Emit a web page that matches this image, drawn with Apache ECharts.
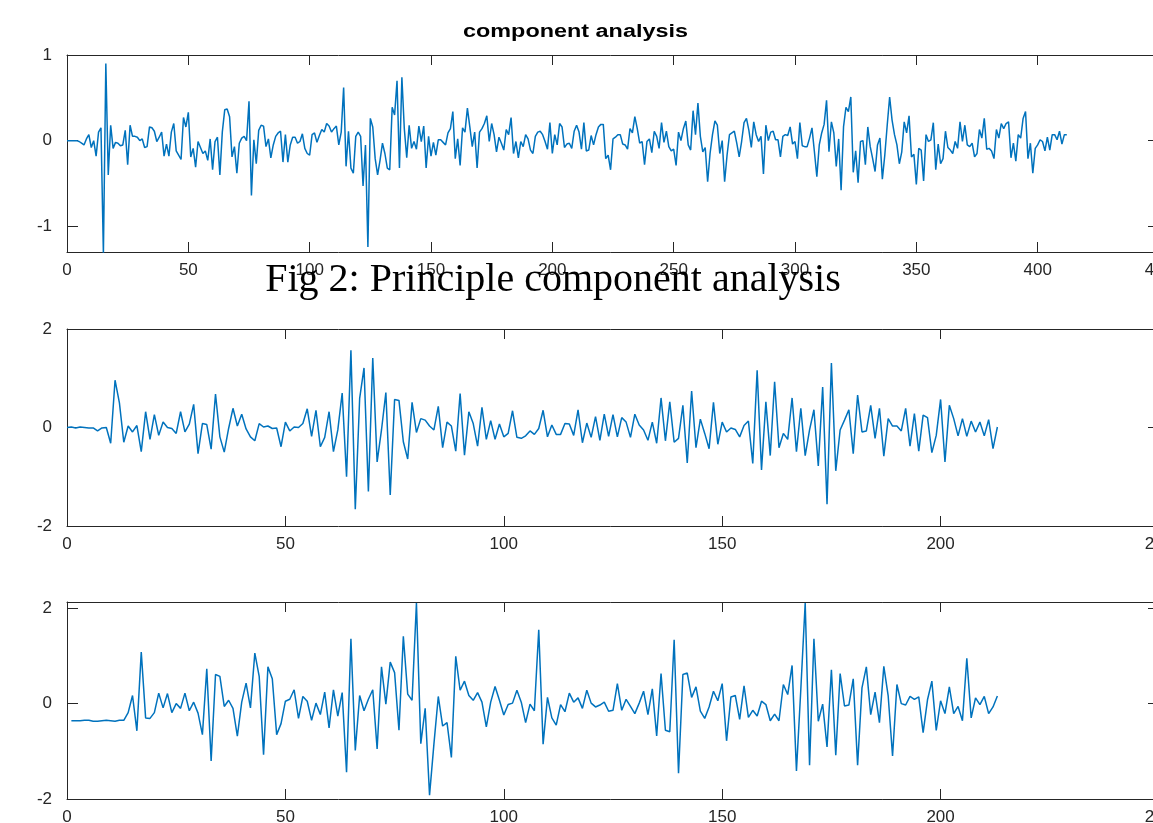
<!DOCTYPE html>
<html>
<head>
<meta charset="utf-8">
<script src="https://cdn.jsdelivr.net/npm/echarts@6/dist/echarts.min.js"></script>
<style>
html,body{margin:0;padding:0;background:#fff;}
#chart{width:1153px;height:823px;}
</style>
</head>
<body>
<div id="chart"></div>
<script>
// ---------- DATA ----------
const titleText = 'component analysis';
const captionText = 'Fig 2: Principle component analysis';

// panel 1 (x starts at 0)
const series1 = [
0,0,0,0,0,-0.01,-0.03,-0.05,0.02,0.07,-0.08,0,-0.18,0.1,0.15,-1.32,0.9,-0.4,0.18,-0.09,
-0.02,-0.03,-0.06,-0.05,0.12,-0.28,0.18,0.05,0.05,0.04,0,0.02,-0.08,-0.07,0.16,0.15,0.11,-0.01,0.04,0.1,
-0.18,-0.04,-0.18,0.1,0.2,-0.12,-0.17,-0.22,0.27,0.16,0.33,-0.19,-0.09,-0.31,-0.01,-0.08,-0.15,-0.12,-0.23,0.02,
-0.34,-0.01,0.04,-0.4,0.1,0.36,0.37,0.28,-0.19,-0.07,-0.38,-0.03,0.03,0.05,0,0.46,-0.64,0.01,-0.27,0.12,
0.18,0.17,-0.07,0.02,-0.2,-0.05,0.05,0.09,0.11,-0.25,0.07,-0.25,-0.05,0.04,0.04,-0.03,-0.01,0.08,-0.09,-0.15,
-0.17,0.07,0.09,-0.02,0.06,0.13,0.1,0.2,0.17,0.1,0.14,0.17,-0.05,0.1,0.62,-0.3,0.11,-0.32,-0.38,0.05,
0.1,0.05,-0.53,-0.05,-1.24,0.26,0.16,-0.21,-0.4,-0.23,-0.03,-0.15,-0.32,-0.34,0.39,0.3,0.7,-0.32,0.74,0.14,
-0.2,0.18,-0.09,-0.01,-0.1,0.17,-0.01,0.17,-0.32,0.05,-0.18,-0.02,-0.17,0.01,0.01,-0.02,-0.05,0.09,0.14,0.34,
-0.21,0.02,-0.29,0.15,0.1,0.38,0.16,-0.07,0.1,-0.32,0.1,0.14,0.2,0.29,-0.01,0.2,0.07,-0.13,0.04,-0.03,
-0.11,0.13,0.07,0.27,-0.15,-0.01,-0.2,-0.01,-0.07,0.07,0.02,-0.11,-0.15,0.05,0.1,0.11,0.07,-0.01,-0.1,0.21,
-0.15,0.07,-0.05,0.2,0.16,-0.08,-0.04,-0.03,-0.09,0.11,0.18,0.1,-0.1,0.21,-0.12,-0.11,0.06,-0.05,0.07,0.16,
0.19,0.19,-0.21,-0.17,-0.34,0.02,0.04,0.07,0.07,-0.04,-0.05,-0.1,0.14,0.09,0.28,0.14,-0.03,-0.01,-0.28,-0.01,
0.02,-0.14,0.11,0.05,-0.09,0.21,-0.02,0.11,-0.07,-0.12,-0.1,-0.29,0.1,0,0.14,0.23,-0.05,-0.11,0.35,0.07,
0.44,0.05,-0.13,-0.08,-0.48,-0.15,0.07,0.23,0.18,-0.15,0,-0.48,-0.17,0.07,0.09,0.11,-0.03,-0.19,-0.01,0.21,
0.26,0.12,-0.08,0.22,0.07,-0.01,0.05,-0.39,0.18,0,0.1,0.11,0.01,0.01,-0.19,0.05,0.07,0.06,0.16,-0.04,
-0.01,-0.21,0.21,-0.06,-0.07,-0.07,0.03,0.15,-0.13,-0.42,-0.05,0.09,0.19,0.47,-0.13,0.22,0.09,-0.3,0.02,-0.58,
0.16,0.39,0.34,0.51,-0.37,-0.12,-0.49,-0.01,0,-0.28,0.16,-0.07,-0.21,-0.36,-0.05,0.03,-0.45,-0.17,0.18,0.51,
0.24,0.07,-0.05,-0.27,-0.13,0.22,0.09,0.29,-0.19,-0.16,-0.51,-0.09,-0.11,-0.47,0.07,-0.01,0.01,0.21,-0.34,-0.04,
-0.27,-0.21,0.11,-0.08,-0.11,-0.15,-0.01,-0.09,0.22,-0.01,0.18,-0.05,-0.07,-0.03,-0.19,-0.15,0.13,0.03,0.26,-0.1,
-0.09,-0.12,-0.21,0.13,0.03,0.2,0.14,0.2,0.22,-0.2,-0.03,-0.24,0.07,0.03,0.26,0.34,-0.21,-0.03,-0.38,-0.09,
-0.05,0.01,-0.01,-0.12,0.04,-0.11,0.07,0.07,0.01,0.11,-0.04,0.07,0.07
];

// panel 2 (x starts at 0)
const series2 = [
0,0.01,-0.01,0.01,0,-0.01,-0.01,-0.07,-0.01,0,-0.32,0.96,0.5,-0.3,0.03,-0.09,0.04,-0.49,0.32,-0.24,
0.26,-0.16,0.11,0,-0.02,-0.12,0.32,-0.09,0.07,0.47,-0.53,0.08,0.06,-0.44,0.68,-0.19,-0.5,-0.02,0.39,0.03,
0.27,-0.03,-0.19,-0.27,0.08,0.01,0.03,-0.02,-0.01,-0.39,0.11,-0.07,0.01,0,0.08,0.38,-0.18,0.35,-0.39,-0.2,
0.32,-0.49,-0.05,0.7,-1.0,1.57,-1.66,0.59,1.21,-1.3,1.41,-0.7,-0.05,0.71,-1.37,0.57,0.55,-0.29,-0.64,0.51,
-0.1,0.18,0.15,0.03,-0.05,0.43,-0.41,0.11,0.03,-0.48,0.69,-0.56,0.32,0.08,-0.38,0.41,-0.24,0.14,-0.24,0.07,
-0.19,-0.12,0.34,-0.2,-0.22,-0.17,-0.07,-0.14,-0.02,0.35,-0.19,0.05,-0.14,-0.14,0.08,0.07,-0.16,0.36,-0.31,0.09,
-0.2,0.22,-0.26,0.27,-0.18,0.26,-0.19,0.2,0.11,-0.2,0.27,0.05,-0.05,-0.26,0.11,-0.32,0.6,-0.27,0.52,-0.3,
-0.22,0.45,-0.72,0.74,-0.41,0.17,-0.12,-0.43,0.51,-0.34,0.11,-0.09,-0.01,-0.04,-0.19,0.04,0.13,-0.73,1.16,-0.86,
0.52,-0.57,0.93,-0.41,-0.12,-0.24,0.6,-0.49,0.39,-0.57,-0.05,0.36,-0.78,0.82,-1.56,1.31,-0.88,-0.05,0.15,0.36,
-0.53,0.66,-0.09,-0.07,0.45,-0.22,0.39,-0.58,0.18,0.03,0.03,-0.07,0.39,-0.38,0.28,-0.48,0.25,0.2,-0.51,-0.16,
0.57,-0.7,0.45,0.18,-0.17,0.18,-0.18,0.13,-0.09,0.11,-0.17,0.16,-0.43,0.01
];

// panel 3 (x starts at 1)
const series3 = [
-0.36,-0.36,-0.36,-0.35,-0.35,-0.37,-0.37,-0.36,-0.35,-0.36,-0.37,-0.35,-0.35,-0.19,0.17,-0.57,1.08,-0.3,-0.31,-0.19,
0.22,-0.09,0.21,-0.19,0,-0.1,0.22,-0.15,0.03,-0.2,-0.65,0.73,-1.2,0.61,0.57,-0.06,0.07,-0.1,-0.68,0.03,
0.43,-0.09,1.06,0.57,-1.07,0.77,0.52,-0.65,-0.42,0.05,0.09,0.29,-0.31,0.15,0.05,-0.35,0.01,-0.23,0.24,-0.51,
0.29,-0.26,0.23,-1.44,1.36,-0.98,0.17,-0.15,0.09,0.29,-0.95,0.77,-0.01,0.87,0.65,-0.56,1.41,0.2,0.07,2.11,
-0.84,-0.1,-1.92,-0.85,0.15,-0.47,-0.4,-1.13,0.99,0.28,0.47,0.17,0.07,0.23,0.03,-0.49,0.03,0.36,0.07,-0.24,
-0.02,0.01,0.28,0.03,-0.4,-0.01,-0.15,1.55,-0.85,0.13,-0.3,-0.45,-0.02,-0.17,0.22,0.03,0.12,-0.1,0.28,0.01,
-0.07,-0.03,0.03,-0.16,-0.14,0.42,-0.14,0.09,-0.06,-0.21,0.01,0.26,-0.23,0.31,-0.68,0.63,-0.56,-0.59,1.34,-1.46,
0.61,0.64,0.13,0.35,-0.16,-0.31,-0.07,0.26,0.06,0.42,-0.78,0.14,0.17,-0.33,0.37,-0.29,-0.14,-0.26,0.05,-0.02,
-0.36,-0.22,-0.36,0.4,0.19,0.8,-1.41,0.3,2.11,-1.29,1.36,-0.37,-0.01,-0.91,0.71,-1.08,0.63,-0.05,-0.03,0.52,
-1.29,0.33,0.77,-0.23,0.24,-0.4,0.78,0.16,-1.1,0.4,0,-0.03,0.15,0.09,0.14,-0.61,0.08,0.47,-0.56,0.06,
-0.21,0.35,-0.21,-0.06,-0.36,0.95,-0.3,0.12,-0.02,0.15,-0.21,-0.07,0.16
];

const xStart = [0, 0, 1];
const xMax = [450, 250, 250];
const yMin = [-1.3, -2, -2];
const yMax = [1, 2, 2.13];
const yTicks = [[-1, 0, 1], [-2, 0, 2], [-2, 0, 2]];

// ---------- CHART ----------
const chart = echarts.init(document.getElementById('chart'), null, {renderer: 'canvas'});
const AX = '#262626';
const FONT = 'Liberation Sans';
const grids = [
  {left: 67, top: 55, width: 1092, height: 197, outerBoundsMode: 'none', containLabel: false},
  {left: 67, top: 329, width: 1092, height: 197, outerBoundsMode: 'none', containLabel: false},
  {left: 67, top: 602, width: 1092, height: 197, outerBoundsMode: 'none', containLabel: false}
];
const allData = [series1, series2, series3];
const xAxes = [], yAxes = [], seriesList = [];
grids.forEach((g, k) => {
  const lineStyle = {color: AX, width: 1};
  xAxes.push({
    type: 'value', gridIndex: k, position: 'bottom', min: 0, max: xMax[k], interval: 50,
    axisLine: {show: true, onZero: false, lineStyle}, splitLine: {show: false},
    axisTick: {show: true, inside: true, length: 10, lineStyle},
    axisLabel: {show: true, color: AX, fontFamily: FONT, fontSize: 17, margin: 10, showMaxLabel: true}
  });
  xAxes.push({
    type: 'value', gridIndex: k, position: 'top', min: 0, max: xMax[k], interval: 50,
    axisLine: {show: true, onZero: false, lineStyle}, splitLine: {show: false},
    axisTick: {show: true, inside: true, length: 10, lineStyle},
    axisLabel: {show: false}
  });
  yAxes.push({
    type: 'value', gridIndex: k, position: 'left', min: yMin[k], max: yMax[k],
    axisLine: {show: true, onZero: false, lineStyle}, splitLine: {show: false},
    axisTick: {show: true, inside: true, length: 11, lineStyle, customValues: yTicks[k]},
    axisLabel: {show: true, color: AX, fontFamily: FONT, fontSize: 17, margin: 15, customValues: yTicks[k]}
  });
  yAxes.push({
    type: 'value', gridIndex: k, position: 'right', min: yMin[k], max: yMax[k],
    axisLine: {show: true, onZero: false, lineStyle}, splitLine: {show: false},
    axisTick: {show: true, inside: true, length: 11, lineStyle, customValues: yTicks[k]},
    axisLabel: {show: false}
  });
  seriesList.push({
    type: 'line', xAxisIndex: 2 * k, yAxisIndex: 2 * k,
    data: allData[k].map((v, i) => [xStart[k] + i, v]),
    showSymbol: false, symbol: 'none', clip: true,
    lineStyle: {color: '#0072BD', width: 1.5}
  });
});

chart.setOption({
  animation: false,
  backgroundColor: '#ffffff',
  grid: grids,
  xAxis: xAxes,
  yAxis: yAxes,
  series: seriesList,
  graphic: [
    {type: 'text', x: 463, y: 23, z: 100, scaleX: 1.3,
     style: {text: titleText, font: 'bold 18px "Liberation Sans"', fill: '#000'}},
    {type: 'text', x: 553, y: 280, z: 100,
     style: {text: captionText, font: '40px "Liberation Serif"', fill: '#000', align: 'center', verticalAlign: 'middle'}}
  ]
});
</script>
</body>
</html>
